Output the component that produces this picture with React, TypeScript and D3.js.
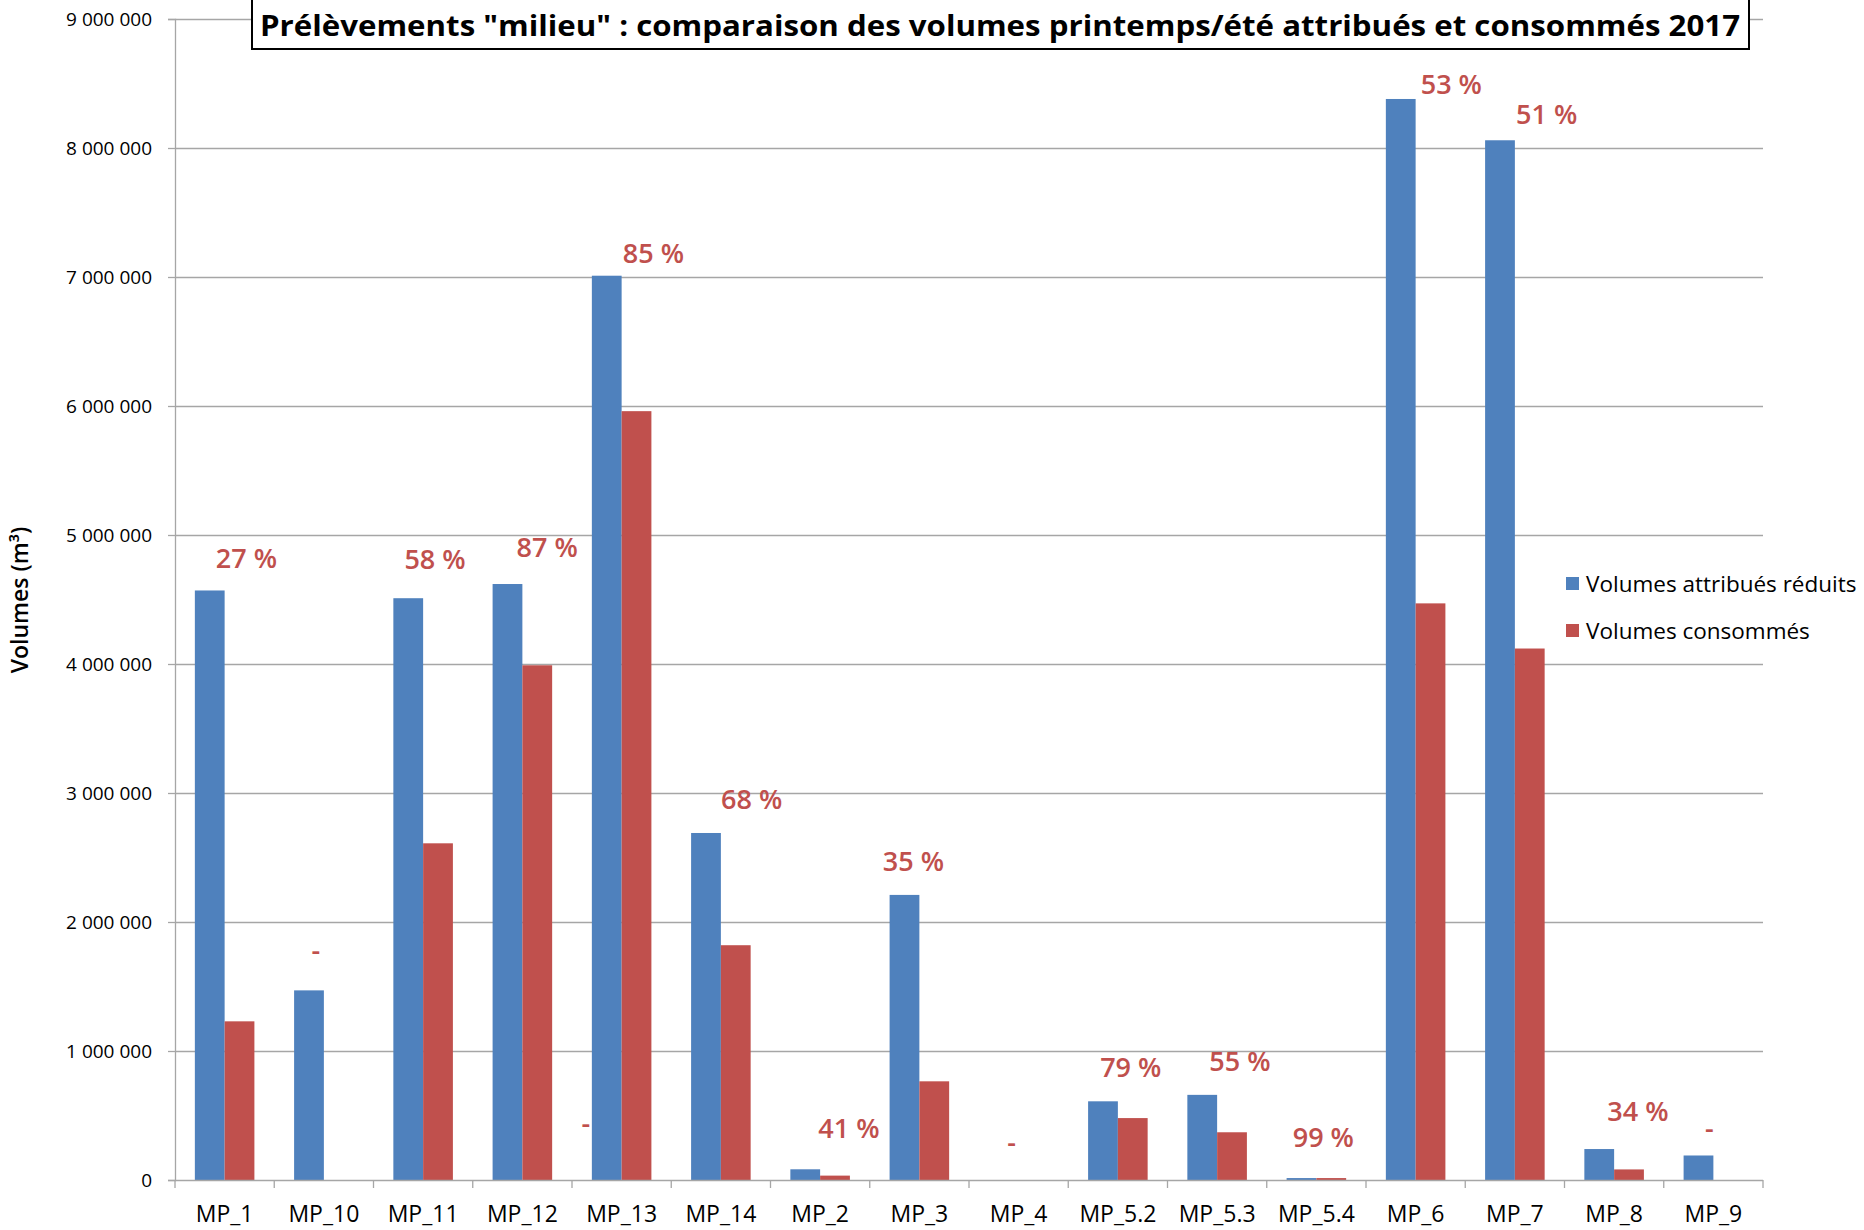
import React, { useEffect, useRef } from "react";
import * as d3 from "d3";

// données
const categories = ["MP_1", "MP_10", "MP_11", "MP_12", "MP_13", "MP_14", "MP_2", "MP_3", "MP_4", "MP_5.2", "MP_5.3", "MP_5.4", "MP_6", "MP_7", "MP_8", "MP_9"];
const attribues = [4570000, 1470000, 4510000, 4620000, 7010000, 2690000, 83000, 2210000, 0, 610000, 660000, 15000, 8380000, 8060000, 240000, 190000];
const consommes = [1230000, 0, 2610000, 3990000, 5960000, 1820000, 34000, 765000, 0, 480000, 370000, 15000, 4470000, 4120000, 82000, 0];
const pctLabels = ["27 %", "-", "58 %", "87 %", "85 %", "68 %", "41 %", "35 %", "-", "79 %", "55 %", "99 %", "53 %", "51 %", "34 %", "-"];
// hauteur des étiquettes (en m³) et décalage (en fraction de catégorie)
const labelAt = [4820000, 1780000, 4810000, 4900000, 7180000, 2950000, 400000, 2470000, 290000, 870000, 920000, 330000, 8490000, 8260000, 530000, 400000];
const labelShift = [0.22, -0.08, 0.12, 0.25, 0.32, 0.31, 0.29, -0.06, -0.07, 0.13, 0.23, 0.07, 0.36, 0.32, 0.24, -0.04];
const extraLabels = [{ cat: "MP_13", shift: -0.36, at: 440000, text: "-" }];
const yTicks = [0, 1000000, 2000000, 3000000, 4000000, 5000000, 6000000, 7000000, 8000000, 9000000];
const seriesNames = ["Volumes attribués réduits", "Volumes consommés"];
const colors = ["#4F81BD", "#C0504D"];

const title = "Prélèvements \"milieu\" : comparaison des volumes printemps/été attribués et consommés 2017";
const font = "'Open Sans', 'Noto Sans', sans-serif";

export default function App() {
  const divRef = useRef<HTMLDivElement>(null);
  const width = 1864,
    height = 1230;

  useEffect(() => {
    d3.select(divRef.current).selectAll("svg").remove();
    draw();
    // eslint-disable-next-line
  }, []);

  const draw = () => {
    const svg = d3
      .select(divRef.current)
      .append("svg")
      .attr("width", width)
      .attr("height", height)
      .style("display", "block")
      .style("font-family", font);

    svg.append("rect").attr("width", width).attr("height", height).attr("fill", "#fff");

    const x0 = d3.scaleBand().domain(categories).range([175, 1763]);
    const bw = x0.bandwidth();
    const x1 = d3.scaleBand().domain(seriesNames).range([bw * 0.2, bw * 0.8]);
    const y = d3.scaleLinear().domain([0, 9000000]).range([1180, 19]);
    const fmt = (v: number) => d3.format(",")(v).replace(/,/g, " ");

    // grille
    svg
      .append("g")
      .selectAll("line")
      .data(yTicks.filter((t) => t > 0))
      .enter()
      .append("line")
      .attr("x1", 175)
      .attr("x2", 1763)
      .attr("y1", (d) => y(d) + 0.5)
      .attr("y2", (d) => y(d) + 0.5)
      .attr("stroke", "#a6a6a6")
      .attr("stroke-width", 1.3);

    // axe y
    const yAxis = svg
      .append("g")
      .attr("transform", "translate(175,0)")
      .call(d3.axisLeft(y).tickValues(yTicks).tickSize(7).tickPadding(16).tickFormat((d) => fmt(+d)));
    yAxis.select(".domain").attr("stroke", "#a6a6a6").attr("stroke-width", 1.3);
    yAxis.selectAll(".tick line").attr("stroke", "#a6a6a6").attr("stroke-width", 1.3);
    yAxis.selectAll("text").attr("fill", "#000").style("font-size", "19px").style("font-family", font);

    // barres
    const groups = svg
      .append("g")
      .selectAll("g")
      .data(categories)
      .enter()
      .append("g")
      .attr("transform", (d) => `translate(${x0(d)},0)`);

    groups
      .selectAll("rect")
      .data((d, i) => [attribues[i], consommes[i]].map((v, k) => ({ v, k })))
      .enter()
      .append("rect")
      .attr("x", (d) => x1(seriesNames[d.k]) as number)
      .attr("width", x1.bandwidth())
      .attr("y", (d) => y(d.v))
      .attr("height", (d) => y(0) - y(d.v))
      .attr("fill", (d) => colors[d.k]);

    // axe x
    const xAxis = svg.append("g").attr("transform", "translate(0,1180)");
    xAxis
      .append("line")
      .attr("x1", 175)
      .attr("x2", 1763)
      .attr("y1", 0.5)
      .attr("y2", 0.5)
      .attr("stroke", "#a6a6a6")
      .attr("stroke-width", 1.5);
    xAxis
      .selectAll("line.tk")
      .data(d3.range(categories.length + 1))
      .enter()
      .append("line")
      .attr("class", "tk")
      .attr("x1", (i) => 175 + i * bw)
      .attr("x2", (i) => 175 + i * bw)
      .attr("y1", 0)
      .attr("y2", 8)
      .attr("stroke", "#a6a6a6")
      .attr("stroke-width", 1.3);
    xAxis
      .selectAll("text")
      .data(categories)
      .enter()
      .append("text")
      .attr("x", (d) => (x0(d) as number) + bw / 2)
      .attr("y", 42)
      .attr("text-anchor", "middle")
      .style("font-size", "23px")
      .attr("fill", "#000")
      .text((d) => d);

    // étiquettes de pourcentage
    const labels = categories
      .map((c, i) => ({ cat: c, shift: labelShift[i], at: labelAt[i], text: pctLabels[i] }))
      .concat(extraLabels);
    svg
      .append("g")
      .selectAll("text")
      .data(labels)
      .enter()
      .append("text")
      .attr("x", (d) => (x0(d.cat) as number) + bw * (0.5 + d.shift))
      .attr("y", (d) => y(d.at))
      .attr("dy", "0.35em")
      .attr("text-anchor", "middle")
      .attr("fill", "#C0504D")
      .style("font-size", "27px")
      .style("font-weight", 600)
      .text((d) => d.text);

    // titre de l'axe y
    svg
      .append("text")
      .attr("transform", "translate(28,600) rotate(-90)")
      .attr("text-anchor", "middle")
      .style("font-size", "23px")
      .style("font-weight", 600)
      .attr("fill", "#000")
      .text("Volumes (m³)");

    // légende
    const legend = svg
      .append("g")
      .selectAll("g")
      .data(seriesNames)
      .enter()
      .append("g")
      .attr("transform", (d, i) => `translate(1566,${577 + i * 47})`);
    legend
      .append("rect")
      .attr("width", 13)
      .attr("height", 13)
      .attr("fill", (d, i) => colors[i]);
    legend
      .append("text")
      .attr("x", 20)
      .attr("y", 7)
      .attr("dy", "0.35em")
      .style("font-size", "22.5px")
      .attr("fill", "#000")
      .text((d) => d);

    // titre
    svg
      .append("rect")
      .attr("x", 252)
      .attr("y", -2)
      .attr("width", 1497)
      .attr("height", 51)
      .attr("fill", "#fff")
      .attr("stroke", "#000")
      .attr("stroke-width", 2);
    svg
      .append("text")
      .attr("x", 1000)
      .attr("y", 36)
      .attr("text-anchor", "middle")
      .attr("textLength", 1480)
      .attr("lengthAdjust", "spacingAndGlyphs")
      .style("font-size", "29px")
      .style("font-weight", 700)
      .attr("fill", "#000")
      .text(title);
  };

  return <div ref={divRef} style={{ position: "absolute", left: 0, top: 0 }}></div>;
}
